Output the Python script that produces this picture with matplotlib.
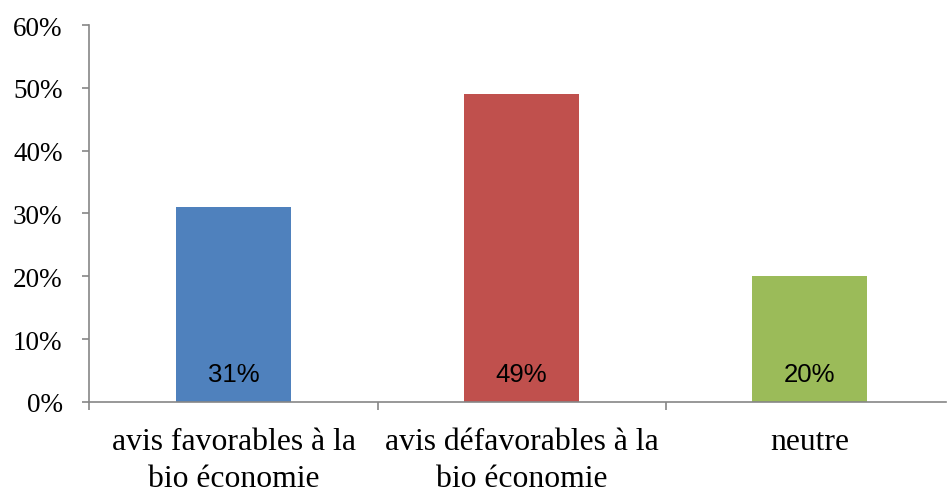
import matplotlib
matplotlib.use("Agg")
import matplotlib.pyplot as plt
from matplotlib.ticker import PercentFormatter

# Data
categories = ["avis favorables à la\nbio économie", "avis défavorables à la\nbio économie", "neutre"]
values = [0.31, 0.49, 0.20]
bar_labels = ["31%", "49%", "20%"]
colors = ["#4F81BD", "#C0504D", "#9BBB59"]
yticks = [0, 0.1, 0.2, 0.3, 0.4, 0.5, 0.6]

axis_color = "#868686"

fig = plt.figure(figsize=(9.47, 4.89), dpi=100)
ax = fig.add_axes([0.0945, 0.1759, 0.9045, 0.7709])

x = list(range(len(categories)))
ax.bar(x, values, width=0.4, color=colors, zorder=2)

for xi, lab in zip(x, bar_labels):
    ax.annotate(lab, xy=(xi, 0), xytext=(0, 20), textcoords="offset points",
                ha="center", va="center", fontsize=18.5, family="Liberation Sans",
                color="black")

ax.set_ylim(0, 0.6)
ax.set_xlim(-0.5, -0.5 + (946 - 89.5) / 288)
ax.set_yticks(yticks)
ax.yaxis.set_major_formatter(PercentFormatter(1.0, decimals=0))

# category labels at centres, tick marks at boundaries
ax.set_xticks(x)
ax.set_xticklabels(categories, family="Liberation Serif", fontsize=22.8,
                   linespacing=1.38)
ax.set_xticks([-0.5, 0.5, 1.5], minor=True)
ax.tick_params(axis="x", which="major", length=0, pad=18)
ax.tick_params(axis="x", which="minor", length=6, width=1.2, color=axis_color,
               direction="out")
ax.tick_params(axis="y", length=5.4, width=1.2, color=axis_color, pad=14,
               labelsize=19.5)
for t in ax.get_yticklabels():
    t.set_family("Liberation Serif")

for s in ["top", "right"]:
    ax.spines[s].set_visible(False)
for s in ["left", "bottom"]:
    ax.spines[s].set_color(axis_color)
    ax.spines[s].set_linewidth(1.2)

fig.savefig("out.png", dpi=100)
